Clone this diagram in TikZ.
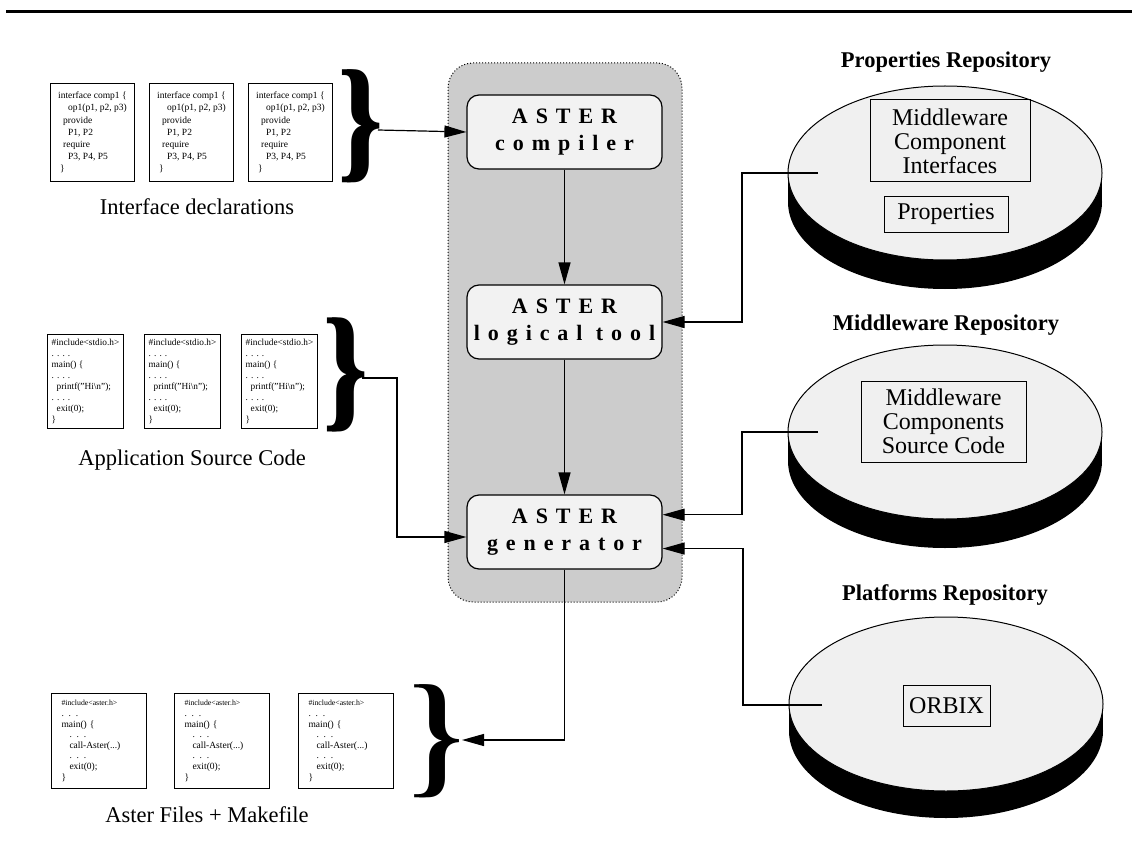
\documentclass[tikz,border=0pt]{standalone}
\usepackage{fontspec}
\usepackage{graphicx}
\setmainfont{Liberation Serif}
\newfontfamily\asterfont[LetterSpace=36]{Liberation Serif}
\usetikzlibrary{arrows.meta,shapes.geometric,calc}
\newcommand{\ifacetext}{interface comp1 \{\\\hspace*{10pt}op1(p1, p2, p3)\\\hspace*{5pt}provide\\\hspace*{10pt}P1, P2\\\hspace*{5pt}require\\\hspace*{10pt}P3, P4, P5\\\hspace*{2pt}\}}
\newcommand{\stdiotext}{\#include<stdio.h>\\. . . .\\main() \{\\. . . .\\\hspace*{5pt}printf("Hi\textbackslash n");\\. . . .\\\hspace*{5pt}exit(0);\\\}}
\newcommand{\astertext}{{\fontsize{7.8}{10.5}\selectfont\#include<aster.h>}\\. . .\\main() \{\\\hspace*{8pt}. . .\\\hspace*{8pt}call-Aster(...)\\\hspace*{8pt}. . .\\\hspace*{8pt}exit(0);\\\}}
\newcommand{\heavybrace}{\bfseries\rlap{\}}\kern0.045em\}}
\newcommand{\plainbrace}{\rlap{\}}\kern0.03em\}}
\begin{document}
\begin{tikzpicture}[x=1pt,y=-1pt,
  conn/.style={line width=1.2pt},
  arr/.style={conn,-{Triangle[length=22pt,width=12pt]}},
  ifbox/.style={draw,line width=1pt,anchor=north west,align=left,inner xsep=0pt,minimum width=84pt,minimum height=98pt,font=\fontsize{9.5}{12.2}\selectfont},
  stbox/.style={draw,line width=1pt,anchor=north west,align=left,inner xsep=0pt,minimum width=76pt,minimum height=94pt,font=\fontsize{9.3}{10.9}\selectfont},
  asbox/.style={draw,line width=1pt,anchor=north west,align=left,inner xsep=10pt,text width=75pt,minimum height=95pt,font=\fontsize{9.5}{10.6}\selectfont},
  grouplabel/.style={font=\fontsize{22.5}{26}\selectfont,inner sep=0pt},
  repolabel/.style={font=\fontsize{22.5}{26}\selectfont\bfseries,inner sep=0pt},
  astbox/.style={draw,line width=1.2pt,fill=black!5,rounded corners=12pt,minimum width=195pt,minimum height=74pt,align=center,font=\fontsize{22}{27}\selectfont\asterfont\bfseries},
  disk/.style={ellipse,draw,line width=1pt,fill=black!6,minimum width=314pt,minimum height=174pt,inner sep=0pt},
  diskshadow/.style={ellipse,fill=black,minimum width=314pt,minimum height=174pt,inner sep=0pt},
  repobox/.style={draw,line width=1pt,align=center,inner sep=0pt,font=\fontsize{24}{24}\selectfont},
  brace/.style={inner sep=0pt}
]
\useasboundingbox (0,0) rectangle (1132,853);
% top rule
\coordinate (ruleL) at (6,12);
\coordinate (ruleR) at (1132,12);
\draw[line width=3pt] (ruleL) -- (ruleR);

% container
\node[draw,line width=1pt,dash pattern=on 1pt off 2pt,fill=black!20,rounded corners=25pt,minimum width=234pt,minimum height=539pt] (cont) at (565,332.5) {};

% ASTER boxes
\node[astbox] (comp) at (564.5,132) {ASTER\\compiler};
\node[astbox] (logic) at (564.5,322) {ASTER\\logical tool};
\node[astbox] (gen) at (564.5,532) {ASTER\\generator};
\draw[arr] (comp) -- (logic);
\draw[arr] (logic) -- (gen);

% interface declarations
\node[ifbox] (if1) at (50,83) {\ifacetext};
\node[ifbox] (if2) at (149,83) {\ifacetext};
\node[ifbox] (if3) at (248,83) {\ifacetext};
\node[brace] (br1) at (361,126.5) {\resizebox*{44pt}{113pt}{\heavybrace}};
\coordinate (br1tip) at (378,130);
\node[grouplabel] (iflab) at (197,207) {Interface declarations};
\draw[arr] (br1tip) -- (comp.west);

% application source code
\node[stbox] (st1) at (47,334) {\stdiotext};
\node[stbox] (st2) at (144,334) {\stdiotext};
\node[stbox] (st3) at (241,334) {\stdiotext};
\node[brace] (br2) at (346,375) {\resizebox*{44pt}{114pt}{\heavybrace}};
\coordinate (br2tip) at (362,378);
\node[grouplabel] (stlab) at (192,460) {Application Source Code};
\draw[arr] (br2tip) -- (397,378) |- ($(gen.west)+(0,5)$);

% aster files
\node[asbox] (as1) at (51,693) {\astertext};
\node[asbox] (as2) at (174,693) {\astertext};
\node[asbox] (as3) at (298,693) {\astertext};
\node[brace] (br3) at (437,741) {\resizebox*{68pt}{113pt}{\plainbrace}};
\coordinate (br3tip) at (462,740);
\node[grouplabel] (aslab) at (207,815) {Aster Files + Makefile};
\draw[arr] (gen.south) |- (br3tip);

% Properties repository
\node[repolabel] (proplab) at (946,62) {Properties Repository};
\node[diskshadow] (propsh) at (945,202) {};
\fill[black] (788,173) rectangle (1102,202);
\node[disk] (prop) at (945,173) {};
\node[repobox,minimum width=160pt,minimum height=82pt] (mci) at (950,141) {Middleware\\Component\\Interfaces};
\node[repobox,minimum width=124pt,minimum height=35pt] (props) at (946,214.5) {Properties};
\coordinate (propin) at (818,173);
\draw[arr] (propin) -- (742,173) |- (logic.east);

% Middleware repository
\node[repolabel] (mwlab) at (946,325) {Middleware Repository};
\node[diskshadow] (mwsh) at (945,461) {};
\fill[black] (788,432) rectangle (1102,461);
\node[disk] (mw) at (945,432) {};
\node[repobox,minimum width=165pt,minimum height=81pt] (mcs) at (943.5,421.5) {Middleware\\Components\\Source Code};
\coordinate (mwin) at (818,432);
\draw[arr] (mwin) -- (742,432) |- ($(gen.north east)!0.27!(gen.south east)$);

% Platforms repository
\node[repolabel] (pflab) at (945,595) {Platforms Repository};
\node[diskshadow] (pfsh) at (946,731) {};
\fill[black] (789,704) rectangle (1103,731);
\node[disk] (pf) at (946,704) {};
\node[repobox,minimum width=87pt,minimum height=41pt] (orbix) at (946.5,705.5) {ORBIX};
\coordinate (pfin) at (822,705);
\draw[arr] (pfin) -- (743,705) |- ($(gen.north east)!0.72!(gen.south east)$);
\end{tikzpicture}
\end{document}
